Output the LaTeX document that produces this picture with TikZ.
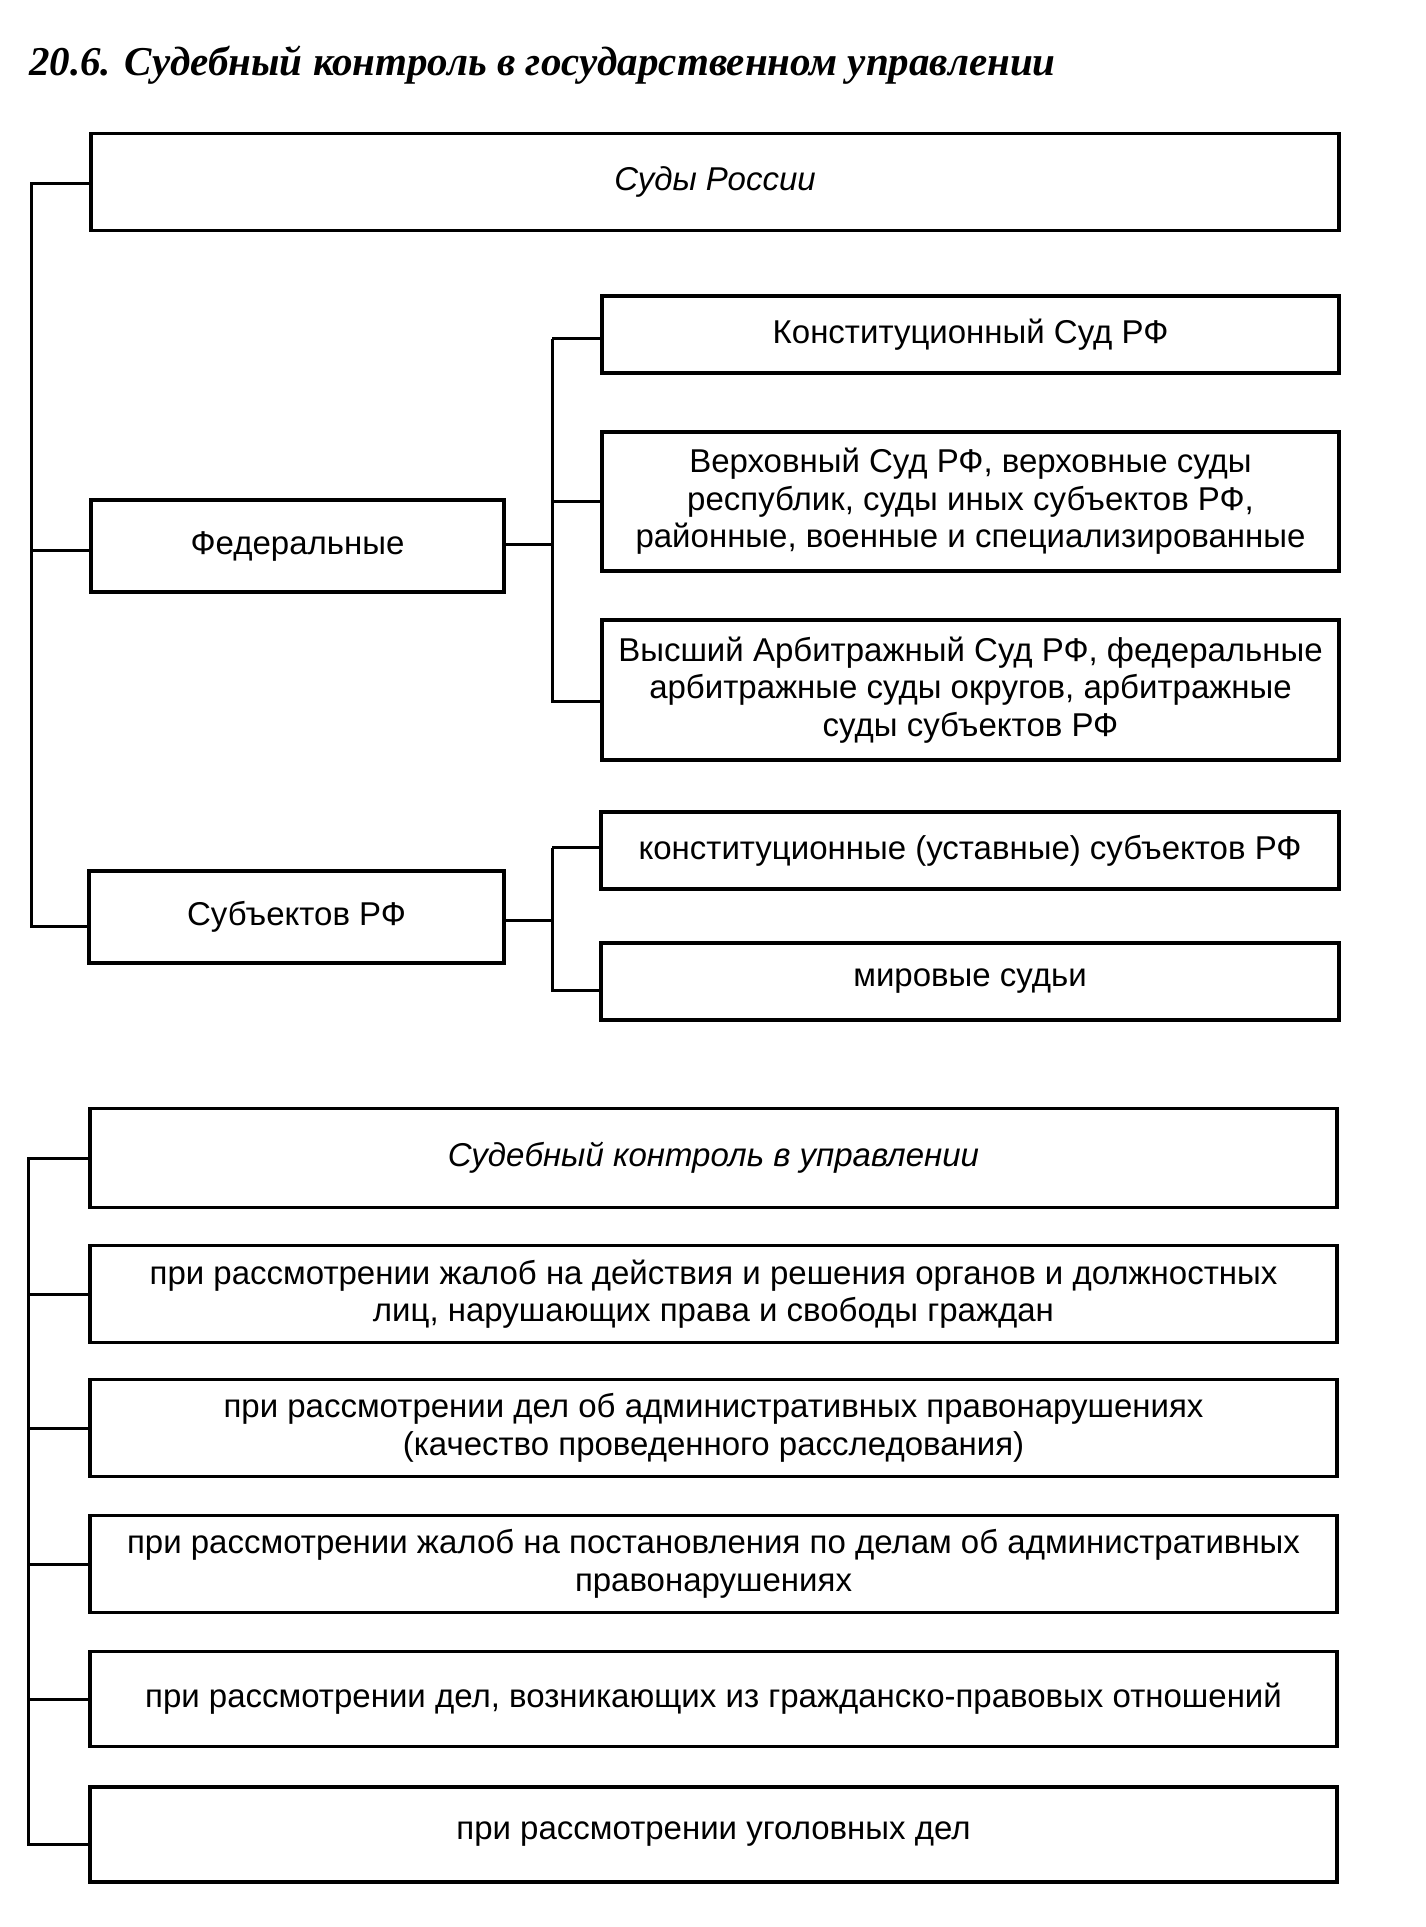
\documentclass[tikz,border=0pt]{standalone}
\usepackage{fontspec}
\setmainfont{Liberation Sans}
\newfontfamily\titlefont{Liberation Serif}
\begin{document}
\begin{tikzpicture}[x=1pt,y=-1pt,
  box/.style={draw, line width=3.5pt, inner sep=0pt, outer sep=0pt, align=center,
    font=\fontsize{33}{37.5}\selectfont},
  itbox/.style={box, font=\itshape\fontsize{33}{37.5}\selectfont},
  link/.style={line width=3pt}]
\useasboundingbox (0,0) rectangle (1425,1927);
\fill[white] (0,0) rectangle (1425,1927);
\node[anchor=base west, inner sep=0pt, font=\titlefont\bfseries\itshape\fontsize{41}{48}\selectfont] (title) at (29,76) {20.6. Судебный контроль в государственном управлении};
% upper part
\node[itbox, minimum width=1248pt, minimum height=97pt] (sudy) at (715,182) {Суды России};
\node[box, minimum width=413pt, minimum height=92pt] (fed) at (297.5,546) {Федеральные};
\node[box, minimum width=737pt, minimum height=77pt] (konst) at (970.5,334.5) {Конституционный Суд РФ};
\node[box, minimum width=737pt, minimum height=139pt] (verh) at (970.5,501.5) {Верховный Суд РФ, верховные суды\\республик, суды иных субъектов РФ,\\районные, военные и специализированные};
\node[box, minimum width=737pt, minimum height=140pt] (vys) at (970.5,690) {Высший Арбитражный Суд РФ, федеральные\\арбитражные суды округов, арбитражные\\суды субъектов РФ};
\node[box, minimum width=738pt, minimum height=77pt] (kust) at (970,850.5) {конституционные (уставные) субъектов РФ};
\node[box, minimum width=415pt, minimum height=92pt] (subj) at (296.5,917) {Субъектов РФ};
\node[box, minimum width=738pt, minimum height=77pt] (mir) at (970,981.5) {мировые судьи};
% attachment points
\coordinate (subjw) at ([yshift=-9pt]subj.west);
\coordinate (fedw) at ([yshift=-4pt]fed.west);
\coordinate (konstw) at ([yshift=-4pt]konst.west);
\coordinate (vysw) at ([yshift=-11pt]vys.west);
\coordinate (kustw) at ([yshift=3pt]kust.west);
\coordinate (mirw) at ([yshift=-9pt]mir.west);
% connectors upper
\coordinate (t1) at (31,183);
\coordinate (f1) at (552,544);
\coordinate (s1) at (552,920);
\draw[link] (sudy.west |- t1) -- (t1) -- (t1 |- subjw) -- (subjw);
\draw[link] (t1 |- fedw) -- (fedw);
\draw[link] (fed.east |- f1) -- (f1);
\draw[link] (f1 |- konstw) -- (f1 |- vysw) -- (vysw);
\draw[link] (f1 |- konstw) -- (konstw);
\draw[link] (f1 |- verh.west) -- (verh.west);
\draw[link] (subj.east |- s1) -- (s1);
\draw[link] (s1 |- kustw) -- (s1 |- mirw) -- (mirw);
\draw[link] (s1 |- kustw) -- (kustw);
% lower part
\node[itbox, minimum width=1247pt, minimum height=99pt] (sk) at (713.5,1158) {Судебный контроль в управлении};
\node[box, minimum width=1247pt, minimum height=97pt] (zh1) at (713.5,1294) {при рассмотрении жалоб на действия и решения органов и должностных\\лиц, нарушающих права и свободы граждан};
\node[box, minimum width=1247pt, minimum height=97pt] (adm) at (713.5,1428) {при рассмотрении дел об административных правонарушениях\\(качество проведенного расследования)};
\node[box, minimum width=1247pt, minimum height=97pt] (zh2) at (713.5,1564) {при рассмотрении жалоб на постановления по делам об административных\\правонарушениях};
\node[box, minimum width=1247pt, minimum height=95pt] (gr) at (713.5,1699) {при рассмотрении дел, возникающих из гражданско-правовых отношений};
\node[box, minimum width=1247pt, minimum height=95pt] (ug) at (713.5,1834.5) {при рассмотрении уголовных дел};
\coordinate (ugw) at ([yshift=-10pt]ug.west);
\coordinate (t2) at (28,1158);
\draw[link] (sk.west) -- (t2) -- (t2 |- ugw) -- (ugw);
\foreach \n in {zh1,adm,zh2,gr} \draw[link] (t2 |- \n.west) -- (\n.west);
\end{tikzpicture}
\end{document}
